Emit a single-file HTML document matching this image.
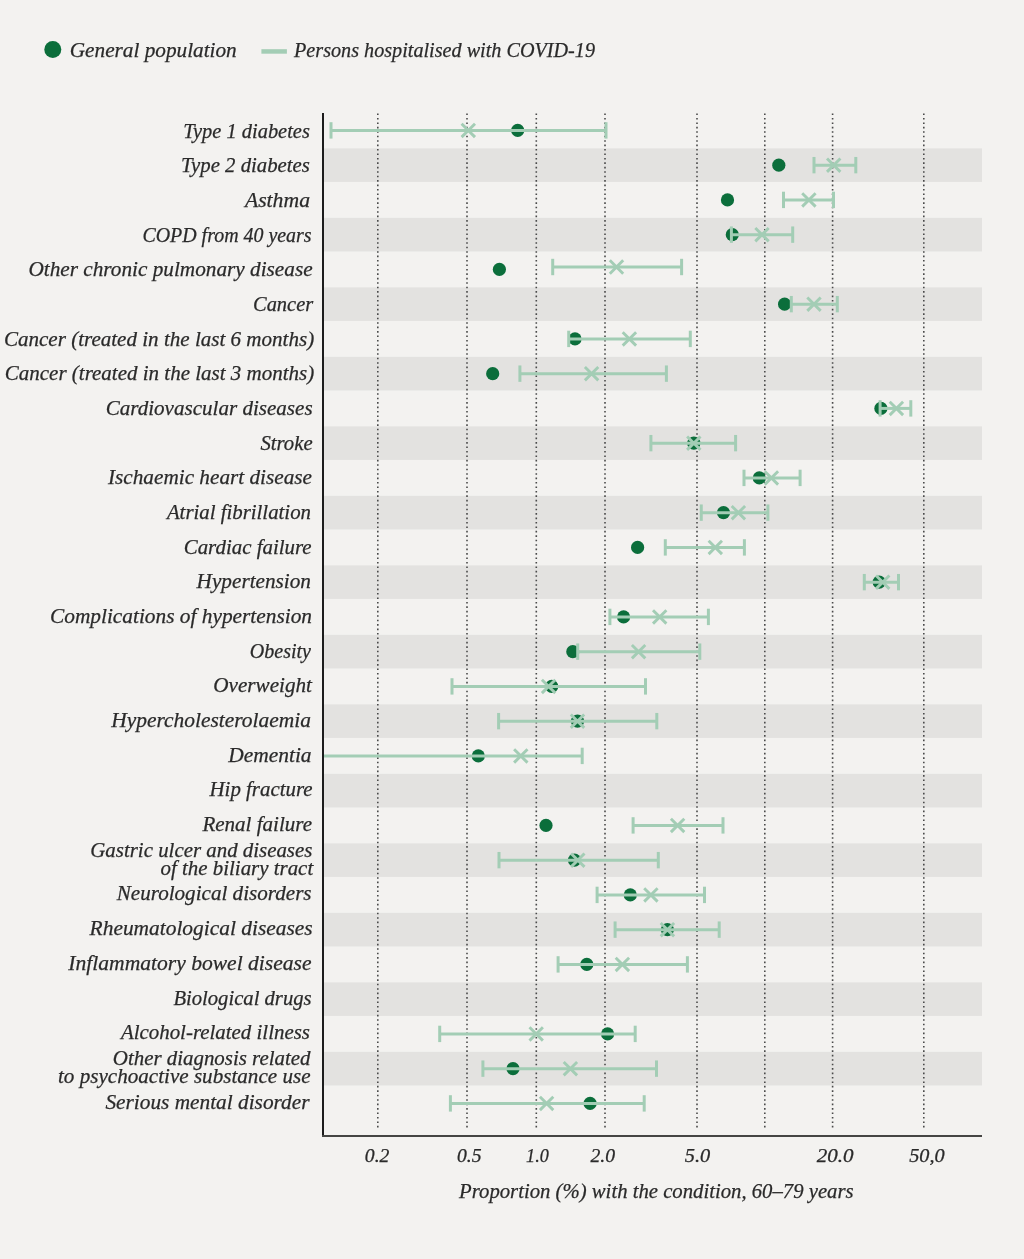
<!DOCTYPE html><html><head><meta charset="utf-8"><style>
html,body{margin:0;padding:0;background:#f3f2f0;width:1024px;height:1259px;overflow:hidden}
svg{display:block;will-change:transform}
text{font-family:"Liberation Serif", serif;font-style:italic;fill:#2a2a2a;stroke:#2a2a2a;stroke-width:0.25px}
</style></head><body>
<svg width="1024" height="1259" viewBox="0 0 1024 1259">
<rect x="0" y="0" width="1024" height="1259" fill="#f3f2f0"/>
<circle cx="52.8" cy="49.4" r="8.5" fill="#0b6e3b"/>
<text x="69.75" y="57.3" font-size="21" textLength="167" lengthAdjust="spacingAndGlyphs">General population</text>
<rect x="261.4" y="49.2" width="25.5" height="4.5" fill="#a3cdb5"/>
<text x="294" y="57.3" font-size="21" textLength="301" lengthAdjust="spacingAndGlyphs">Persons hospitalised with COVID-19</text>
<rect x="324" y="148.35" width="658" height="33.6" fill="#e3e2e0"/>
<rect x="324" y="217.85" width="658" height="33.6" fill="#e3e2e0"/>
<rect x="324" y="287.35" width="658" height="33.6" fill="#e3e2e0"/>
<rect x="324" y="356.85" width="658" height="33.6" fill="#e3e2e0"/>
<rect x="324" y="426.35" width="658" height="33.6" fill="#e3e2e0"/>
<rect x="324" y="495.85" width="658" height="33.6" fill="#e3e2e0"/>
<rect x="324" y="565.35" width="658" height="33.6" fill="#e3e2e0"/>
<rect x="324" y="634.85" width="658" height="33.6" fill="#e3e2e0"/>
<rect x="324" y="704.35" width="658" height="33.6" fill="#e3e2e0"/>
<rect x="324" y="773.85" width="658" height="33.6" fill="#e3e2e0"/>
<rect x="324" y="843.35" width="658" height="33.6" fill="#e3e2e0"/>
<rect x="324" y="912.85" width="658" height="33.6" fill="#e3e2e0"/>
<rect x="324" y="982.35" width="658" height="33.6" fill="#e3e2e0"/>
<rect x="324" y="1051.85" width="658" height="33.6" fill="#e3e2e0"/>
<line x1="377.8" y1="113.5" x2="377.8" y2="1127.5" stroke="#4a4a4a" stroke-width="1.6" stroke-dasharray="1.6 2.84"/>
<line x1="467.0" y1="113.5" x2="467.0" y2="1127.5" stroke="#4a4a4a" stroke-width="1.6" stroke-dasharray="1.6 2.84"/>
<line x1="536.3" y1="113.5" x2="536.3" y2="1127.5" stroke="#4a4a4a" stroke-width="1.6" stroke-dasharray="1.6 2.84"/>
<line x1="605.0" y1="113.5" x2="605.0" y2="1127.5" stroke="#4a4a4a" stroke-width="1.6" stroke-dasharray="1.6 2.84"/>
<line x1="697.0" y1="113.5" x2="697.0" y2="1127.5" stroke="#4a4a4a" stroke-width="1.6" stroke-dasharray="1.6 2.84"/>
<line x1="764.8" y1="113.5" x2="764.8" y2="1127.5" stroke="#4a4a4a" stroke-width="1.6" stroke-dasharray="1.6 2.84"/>
<line x1="832.6" y1="113.5" x2="832.6" y2="1127.5" stroke="#4a4a4a" stroke-width="1.6" stroke-dasharray="1.6 2.84"/>
<line x1="923.8" y1="113.5" x2="923.8" y2="1127.5" stroke="#4a4a4a" stroke-width="1.6" stroke-dasharray="1.6 2.84"/>
<rect x="322" y="113" width="2" height="1024" fill="#1c1c1c"/>
<rect x="322" y="1135" width="660" height="2" fill="#454543"/>
<text x="183.2" y="137.7" font-size="21" textLength="126.7" lengthAdjust="spacingAndGlyphs">Type 1 diabetes</text>
<text x="181.0" y="172.4" font-size="21" textLength="128.9" lengthAdjust="spacingAndGlyphs">Type 2 diabetes</text>
<text x="244.9" y="207.0" font-size="21" textLength="65.1" lengthAdjust="spacingAndGlyphs">Asthma</text>
<text x="142.4" y="241.7" font-size="21" textLength="169.2" lengthAdjust="spacingAndGlyphs">COPD from 40 years</text>
<text x="28.4" y="276.4" font-size="21" textLength="284.2" lengthAdjust="spacingAndGlyphs">Other chronic pulmonary disease</text>
<text x="253.0" y="311.1" font-size="21" textLength="60.2" lengthAdjust="spacingAndGlyphs">Cancer</text>
<text x="3.9" y="345.7" font-size="21" textLength="310.3" lengthAdjust="spacingAndGlyphs">Cancer (treated in the last 6 months)</text>
<text x="4.8" y="380.4" font-size="21" textLength="309.4" lengthAdjust="spacingAndGlyphs">Cancer (treated in the last 3 months)</text>
<text x="105.7" y="415.1" font-size="21" textLength="206.9" lengthAdjust="spacingAndGlyphs">Cardiovascular diseases</text>
<text x="260.4" y="449.7" font-size="21" textLength="52.2" lengthAdjust="spacingAndGlyphs">Stroke</text>
<text x="108.0" y="484.4" font-size="21" textLength="204.0" lengthAdjust="spacingAndGlyphs">Ischaemic heart disease</text>
<text x="166.9" y="519.1" font-size="21" textLength="144.1" lengthAdjust="spacingAndGlyphs">Atrial fibrillation</text>
<text x="183.7" y="553.7" font-size="21" textLength="127.9" lengthAdjust="spacingAndGlyphs">Cardiac failure</text>
<text x="196.6" y="588.4" font-size="21" textLength="114.4" lengthAdjust="spacingAndGlyphs">Hypertension</text>
<text x="50.0" y="623.1" font-size="21" textLength="262.0" lengthAdjust="spacingAndGlyphs">Complications of hypertension</text>
<text x="249.8" y="657.8" font-size="21" textLength="61.2" lengthAdjust="spacingAndGlyphs">Obesity</text>
<text x="213.3" y="692.4" font-size="21" textLength="98.7" lengthAdjust="spacingAndGlyphs">Overweight</text>
<text x="111.2" y="727.1" font-size="21" textLength="199.8" lengthAdjust="spacingAndGlyphs">Hypercholesterolaemia</text>
<text x="228.2" y="761.8" font-size="21" textLength="83.4" lengthAdjust="spacingAndGlyphs">Dementia</text>
<text x="209.5" y="796.4" font-size="21" textLength="103.1" lengthAdjust="spacingAndGlyphs">Hip fracture</text>
<text x="202.4" y="831.1" font-size="21" textLength="109.6" lengthAdjust="spacingAndGlyphs">Renal failure</text>
<text x="90.3" y="857.4" font-size="21" textLength="222.1" lengthAdjust="spacingAndGlyphs">Gastric ulcer and diseases</text>
<text x="160.6" y="874.5" font-size="21" textLength="152.6" lengthAdjust="spacingAndGlyphs">of the biliary tract</text>
<text x="116.7" y="900.4" font-size="21" textLength="194.9" lengthAdjust="spacingAndGlyphs">Neurological disorders</text>
<text x="89.6" y="935.1" font-size="21" textLength="223.0" lengthAdjust="spacingAndGlyphs">Rheumatological diseases</text>
<text x="68.3" y="969.8" font-size="21" textLength="243.3" lengthAdjust="spacingAndGlyphs">Inflammatory bowel disease</text>
<text x="173.4" y="1004.5" font-size="21" textLength="138.2" lengthAdjust="spacingAndGlyphs">Biological drugs</text>
<text x="120.9" y="1039.1" font-size="21" textLength="189.1" lengthAdjust="spacingAndGlyphs">Alcohol-related illness</text>
<text x="112.8" y="1065.4" font-size="21" textLength="197.7" lengthAdjust="spacingAndGlyphs">Other diagnosis related</text>
<text x="58.0" y="1082.5" font-size="21" textLength="252.5" lengthAdjust="spacingAndGlyphs">to psychoactive substance use</text>
<text x="105.4" y="1108.5" font-size="21" textLength="204.1" lengthAdjust="spacingAndGlyphs">Serious mental disorder</text>
<circle cx="517.7" cy="130.40" r="6.6" fill="#0b6e3b"/>
<line x1="331" y1="130.40" x2="606" y2="130.40" stroke="#a3cdb5" stroke-width="3"/>
<line x1="331" y1="122.20" x2="331" y2="138.60" stroke="#a3cdb5" stroke-width="3"/>
<line x1="606" y1="122.20" x2="606" y2="138.60" stroke="#a3cdb5" stroke-width="3"/>
<path d="M461.60 123.70L475.00 137.10M461.60 137.10L475.00 123.70" stroke="#a3cdb5" stroke-width="2.9" fill="none"/>
<circle cx="778.8" cy="165.15" r="6.6" fill="#0b6e3b"/>
<line x1="814.0" y1="165.15" x2="855.8" y2="165.15" stroke="#a3cdb5" stroke-width="3"/>
<line x1="814.0" y1="156.95" x2="814.0" y2="173.35" stroke="#a3cdb5" stroke-width="3"/>
<line x1="855.8" y1="156.95" x2="855.8" y2="173.35" stroke="#a3cdb5" stroke-width="3"/>
<path d="M827.00 158.45L840.40 171.85M827.00 171.85L840.40 158.45" stroke="#a3cdb5" stroke-width="2.9" fill="none"/>
<circle cx="727.5" cy="199.90" r="6.6" fill="#0b6e3b"/>
<line x1="783.5" y1="199.90" x2="833.5" y2="199.90" stroke="#a3cdb5" stroke-width="3"/>
<line x1="783.5" y1="191.70" x2="783.5" y2="208.10" stroke="#a3cdb5" stroke-width="3"/>
<line x1="833.5" y1="191.70" x2="833.5" y2="208.10" stroke="#a3cdb5" stroke-width="3"/>
<path d="M802.20 193.20L815.60 206.60M802.20 206.60L815.60 193.20" stroke="#a3cdb5" stroke-width="2.9" fill="none"/>
<circle cx="732.3" cy="234.65" r="6.6" fill="#0b6e3b"/>
<line x1="731.4" y1="234.65" x2="792.7" y2="234.65" stroke="#a3cdb5" stroke-width="3"/>
<line x1="731.4" y1="226.45" x2="731.4" y2="242.85" stroke="#a3cdb5" stroke-width="3"/>
<line x1="792.7" y1="226.45" x2="792.7" y2="242.85" stroke="#a3cdb5" stroke-width="3"/>
<path d="M755.30 227.95L768.70 241.35M755.30 241.35L768.70 227.95" stroke="#a3cdb5" stroke-width="2.9" fill="none"/>
<circle cx="499.4" cy="269.40" r="6.6" fill="#0b6e3b"/>
<line x1="552.7" y1="267.00" x2="681.6" y2="267.00" stroke="#a3cdb5" stroke-width="3"/>
<line x1="552.7" y1="258.80" x2="552.7" y2="275.20" stroke="#a3cdb5" stroke-width="3"/>
<line x1="681.6" y1="258.80" x2="681.6" y2="275.20" stroke="#a3cdb5" stroke-width="3"/>
<path d="M609.80 260.30L623.20 273.70M609.80 273.70L623.20 260.30" stroke="#a3cdb5" stroke-width="2.9" fill="none"/>
<circle cx="784.6" cy="304.15" r="6.6" fill="#0b6e3b"/>
<line x1="791.3" y1="304.15" x2="837.3" y2="304.15" stroke="#a3cdb5" stroke-width="3"/>
<line x1="791.3" y1="295.95" x2="791.3" y2="312.35" stroke="#a3cdb5" stroke-width="3"/>
<line x1="837.3" y1="295.95" x2="837.3" y2="312.35" stroke="#a3cdb5" stroke-width="3"/>
<path d="M807.30 297.45L820.70 310.85M807.30 310.85L820.70 297.45" stroke="#a3cdb5" stroke-width="2.9" fill="none"/>
<circle cx="575.0" cy="338.90" r="6.6" fill="#0b6e3b"/>
<line x1="568.7" y1="338.90" x2="690.3" y2="338.90" stroke="#a3cdb5" stroke-width="3"/>
<line x1="568.7" y1="330.70" x2="568.7" y2="347.10" stroke="#a3cdb5" stroke-width="3"/>
<line x1="690.3" y1="330.70" x2="690.3" y2="347.10" stroke="#a3cdb5" stroke-width="3"/>
<path d="M622.70 332.20L636.10 345.60M622.70 345.60L636.10 332.20" stroke="#a3cdb5" stroke-width="2.9" fill="none"/>
<circle cx="492.7" cy="373.65" r="6.6" fill="#0b6e3b"/>
<line x1="519.9" y1="373.65" x2="666.4" y2="373.65" stroke="#a3cdb5" stroke-width="3"/>
<line x1="519.9" y1="365.45" x2="519.9" y2="381.85" stroke="#a3cdb5" stroke-width="3"/>
<line x1="666.4" y1="365.45" x2="666.4" y2="381.85" stroke="#a3cdb5" stroke-width="3"/>
<path d="M584.90 366.95L598.30 380.35M584.90 380.35L598.30 366.95" stroke="#a3cdb5" stroke-width="2.9" fill="none"/>
<circle cx="880.9" cy="408.40" r="6.6" fill="#0b6e3b"/>
<line x1="880.1" y1="408.40" x2="910.8" y2="408.40" stroke="#a3cdb5" stroke-width="3"/>
<line x1="880.1" y1="400.20" x2="880.1" y2="416.60" stroke="#a3cdb5" stroke-width="3"/>
<line x1="910.8" y1="400.20" x2="910.8" y2="416.60" stroke="#a3cdb5" stroke-width="3"/>
<path d="M889.70 401.70L903.10 415.10M889.70 415.10L903.10 401.70" stroke="#a3cdb5" stroke-width="2.9" fill="none"/>
<circle cx="693.8" cy="443.15" r="6.6" fill="#0b6e3b"/>
<line x1="650.9" y1="443.15" x2="735.6" y2="443.15" stroke="#a3cdb5" stroke-width="3"/>
<line x1="650.9" y1="434.95" x2="650.9" y2="451.35" stroke="#a3cdb5" stroke-width="3"/>
<line x1="735.6" y1="434.95" x2="735.6" y2="451.35" stroke="#a3cdb5" stroke-width="3"/>
<path d="M687.10 436.45L700.50 449.85M687.10 449.85L700.50 436.45" stroke="#a3cdb5" stroke-width="2.9" fill="none"/>
<circle cx="759.3" cy="477.90" r="6.6" fill="#0b6e3b"/>
<line x1="744.0" y1="477.90" x2="800.1" y2="477.90" stroke="#a3cdb5" stroke-width="3"/>
<line x1="744.0" y1="469.70" x2="744.0" y2="486.10" stroke="#a3cdb5" stroke-width="3"/>
<line x1="800.1" y1="469.70" x2="800.1" y2="486.10" stroke="#a3cdb5" stroke-width="3"/>
<path d="M764.70 471.20L778.10 484.60M764.70 484.60L778.10 471.20" stroke="#a3cdb5" stroke-width="2.9" fill="none"/>
<circle cx="723.5" cy="512.65" r="6.6" fill="#0b6e3b"/>
<line x1="701.25" y1="512.65" x2="767.9" y2="512.65" stroke="#a3cdb5" stroke-width="3"/>
<line x1="701.25" y1="504.45" x2="701.25" y2="520.85" stroke="#a3cdb5" stroke-width="3"/>
<line x1="767.9" y1="504.45" x2="767.9" y2="520.85" stroke="#a3cdb5" stroke-width="3"/>
<path d="M731.70 505.95L745.10 519.35M731.70 519.35L745.10 505.95" stroke="#a3cdb5" stroke-width="2.9" fill="none"/>
<circle cx="637.6" cy="547.40" r="6.6" fill="#0b6e3b"/>
<line x1="665.3" y1="547.40" x2="744.4" y2="547.40" stroke="#a3cdb5" stroke-width="3"/>
<line x1="665.3" y1="539.20" x2="665.3" y2="555.60" stroke="#a3cdb5" stroke-width="3"/>
<line x1="744.4" y1="539.20" x2="744.4" y2="555.60" stroke="#a3cdb5" stroke-width="3"/>
<path d="M708.60 540.70L722.00 554.10M708.60 554.10L722.00 540.70" stroke="#a3cdb5" stroke-width="2.9" fill="none"/>
<circle cx="879.2" cy="582.15" r="6.6" fill="#0b6e3b"/>
<line x1="864.3" y1="582.15" x2="898.5" y2="582.15" stroke="#a3cdb5" stroke-width="3"/>
<line x1="864.3" y1="573.95" x2="864.3" y2="590.35" stroke="#a3cdb5" stroke-width="3"/>
<line x1="898.5" y1="573.95" x2="898.5" y2="590.35" stroke="#a3cdb5" stroke-width="3"/>
<path d="M876.00 575.45L889.40 588.85M876.00 588.85L889.40 575.45" stroke="#a3cdb5" stroke-width="2.9" fill="none"/>
<circle cx="623.6" cy="616.90" r="6.6" fill="#0b6e3b"/>
<line x1="609.9" y1="616.90" x2="708.4" y2="616.90" stroke="#a3cdb5" stroke-width="3"/>
<line x1="609.9" y1="608.70" x2="609.9" y2="625.10" stroke="#a3cdb5" stroke-width="3"/>
<line x1="708.4" y1="608.70" x2="708.4" y2="625.10" stroke="#a3cdb5" stroke-width="3"/>
<path d="M653.00 610.20L666.40 623.60M653.00 623.60L666.40 610.20" stroke="#a3cdb5" stroke-width="2.9" fill="none"/>
<circle cx="572.8" cy="651.65" r="6.6" fill="#0b6e3b"/>
<line x1="577.7" y1="651.65" x2="699.8" y2="651.65" stroke="#a3cdb5" stroke-width="3"/>
<line x1="577.7" y1="643.45" x2="577.7" y2="659.85" stroke="#a3cdb5" stroke-width="3"/>
<line x1="699.8" y1="643.45" x2="699.8" y2="659.85" stroke="#a3cdb5" stroke-width="3"/>
<path d="M631.90 644.95L645.30 658.35M631.90 658.35L645.30 644.95" stroke="#a3cdb5" stroke-width="2.9" fill="none"/>
<circle cx="551.7" cy="686.40" r="6.6" fill="#0b6e3b"/>
<line x1="452.0" y1="686.40" x2="645.5" y2="686.40" stroke="#a3cdb5" stroke-width="3"/>
<line x1="452.0" y1="678.20" x2="452.0" y2="694.60" stroke="#a3cdb5" stroke-width="3"/>
<line x1="645.5" y1="678.20" x2="645.5" y2="694.60" stroke="#a3cdb5" stroke-width="3"/>
<path d="M541.90 679.70L555.30 693.10M541.90 693.10L555.30 679.70" stroke="#a3cdb5" stroke-width="2.9" fill="none"/>
<circle cx="577.5" cy="721.15" r="6.6" fill="#0b6e3b"/>
<line x1="498.6" y1="721.15" x2="656.8" y2="721.15" stroke="#a3cdb5" stroke-width="3"/>
<line x1="498.6" y1="712.95" x2="498.6" y2="729.35" stroke="#a3cdb5" stroke-width="3"/>
<line x1="656.8" y1="712.95" x2="656.8" y2="729.35" stroke="#a3cdb5" stroke-width="3"/>
<path d="M570.80 714.45L584.20 727.85M570.80 727.85L584.20 714.45" stroke="#a3cdb5" stroke-width="2.9" fill="none"/>
<circle cx="478.3" cy="755.90" r="6.6" fill="#0b6e3b"/>
<line x1="324" y1="755.90" x2="582.2" y2="755.90" stroke="#a3cdb5" stroke-width="3"/>
<line x1="582.2" y1="747.70" x2="582.2" y2="764.10" stroke="#a3cdb5" stroke-width="3"/>
<path d="M514.10 749.20L527.50 762.60M514.10 762.60L527.50 749.20" stroke="#a3cdb5" stroke-width="2.9" fill="none"/>
<circle cx="546.0" cy="825.40" r="6.6" fill="#0b6e3b"/>
<line x1="633.1" y1="825.40" x2="723.0" y2="825.40" stroke="#a3cdb5" stroke-width="3"/>
<line x1="633.1" y1="817.20" x2="633.1" y2="833.60" stroke="#a3cdb5" stroke-width="3"/>
<line x1="723.0" y1="817.20" x2="723.0" y2="833.60" stroke="#a3cdb5" stroke-width="3"/>
<path d="M670.90 818.70L684.30 832.10M670.90 832.10L684.30 818.70" stroke="#a3cdb5" stroke-width="2.9" fill="none"/>
<circle cx="574.5" cy="860.15" r="6.6" fill="#0b6e3b"/>
<line x1="499.0" y1="860.15" x2="658.3" y2="860.15" stroke="#a3cdb5" stroke-width="3"/>
<line x1="499.0" y1="851.95" x2="499.0" y2="868.35" stroke="#a3cdb5" stroke-width="3"/>
<line x1="658.3" y1="851.95" x2="658.3" y2="868.35" stroke="#a3cdb5" stroke-width="3"/>
<path d="M571.10 853.45L584.50 866.85M571.10 866.85L584.50 853.45" stroke="#a3cdb5" stroke-width="2.9" fill="none"/>
<circle cx="630.3" cy="894.90" r="6.6" fill="#0b6e3b"/>
<line x1="597.1" y1="894.90" x2="704.5" y2="894.90" stroke="#a3cdb5" stroke-width="3"/>
<line x1="597.1" y1="886.70" x2="597.1" y2="903.10" stroke="#a3cdb5" stroke-width="3"/>
<line x1="704.5" y1="886.70" x2="704.5" y2="903.10" stroke="#a3cdb5" stroke-width="3"/>
<path d="M644.20 888.20L657.60 901.60M644.20 901.60L657.60 888.20" stroke="#a3cdb5" stroke-width="2.9" fill="none"/>
<circle cx="667.4" cy="929.65" r="6.6" fill="#0b6e3b"/>
<line x1="615.1" y1="929.65" x2="719.2" y2="929.65" stroke="#a3cdb5" stroke-width="3"/>
<line x1="615.1" y1="921.45" x2="615.1" y2="937.85" stroke="#a3cdb5" stroke-width="3"/>
<line x1="719.2" y1="921.45" x2="719.2" y2="937.85" stroke="#a3cdb5" stroke-width="3"/>
<path d="M660.70 922.95L674.10 936.35M660.70 936.35L674.10 922.95" stroke="#a3cdb5" stroke-width="2.9" fill="none"/>
<circle cx="586.8" cy="964.40" r="6.6" fill="#0b6e3b"/>
<line x1="558.1" y1="964.40" x2="687.4" y2="964.40" stroke="#a3cdb5" stroke-width="3"/>
<line x1="558.1" y1="956.20" x2="558.1" y2="972.60" stroke="#a3cdb5" stroke-width="3"/>
<line x1="687.4" y1="956.20" x2="687.4" y2="972.60" stroke="#a3cdb5" stroke-width="3"/>
<path d="M615.70 957.70L629.10 971.10M615.70 971.10L629.10 957.70" stroke="#a3cdb5" stroke-width="2.9" fill="none"/>
<circle cx="607.6" cy="1033.90" r="6.6" fill="#0b6e3b"/>
<line x1="439.7" y1="1033.90" x2="635.2" y2="1033.90" stroke="#a3cdb5" stroke-width="3"/>
<line x1="439.7" y1="1025.70" x2="439.7" y2="1042.10" stroke="#a3cdb5" stroke-width="3"/>
<line x1="635.2" y1="1025.70" x2="635.2" y2="1042.10" stroke="#a3cdb5" stroke-width="3"/>
<path d="M529.50 1027.20L542.90 1040.60M529.50 1040.60L542.90 1027.20" stroke="#a3cdb5" stroke-width="2.9" fill="none"/>
<circle cx="513.0" cy="1068.65" r="6.6" fill="#0b6e3b"/>
<line x1="482.9" y1="1068.65" x2="656.5" y2="1068.65" stroke="#a3cdb5" stroke-width="3"/>
<line x1="482.9" y1="1060.45" x2="482.9" y2="1076.85" stroke="#a3cdb5" stroke-width="3"/>
<line x1="656.5" y1="1060.45" x2="656.5" y2="1076.85" stroke="#a3cdb5" stroke-width="3"/>
<path d="M563.70 1061.95L577.10 1075.35M563.70 1075.35L577.10 1061.95" stroke="#a3cdb5" stroke-width="2.9" fill="none"/>
<circle cx="590.1" cy="1103.40" r="6.6" fill="#0b6e3b"/>
<line x1="450.4" y1="1103.40" x2="644.2" y2="1103.40" stroke="#a3cdb5" stroke-width="3"/>
<line x1="450.4" y1="1095.20" x2="450.4" y2="1111.60" stroke="#a3cdb5" stroke-width="3"/>
<line x1="644.2" y1="1095.20" x2="644.2" y2="1111.60" stroke="#a3cdb5" stroke-width="3"/>
<path d="M539.90 1096.70L553.30 1110.10M539.90 1110.10L553.30 1096.70" stroke="#a3cdb5" stroke-width="2.9" fill="none"/>
<text x="364.8" y="1161.8" font-size="18" textLength="24.6" lengthAdjust="spacingAndGlyphs">0.2</text>
<text x="457.0" y="1161.8" font-size="18" textLength="24.6" lengthAdjust="spacingAndGlyphs">0.5</text>
<text x="526.1" y="1161.8" font-size="18" textLength="22.7" lengthAdjust="spacingAndGlyphs">1.0</text>
<text x="590.4" y="1161.8" font-size="18" textLength="24.6" lengthAdjust="spacingAndGlyphs">2.0</text>
<text x="684.7" y="1161.8" font-size="18" textLength="25.5" lengthAdjust="spacingAndGlyphs">5.0</text>
<text x="816.7" y="1161.8" font-size="18" textLength="36.9" lengthAdjust="spacingAndGlyphs">20.0</text>
<text x="909.2" y="1161.8" font-size="18" textLength="35.5" lengthAdjust="spacingAndGlyphs">50,0</text>
<text x="459.1" y="1197.8" font-size="21" textLength="394.5" lengthAdjust="spacingAndGlyphs">Proportion (%) with the condition, 60–79 years</text>
</svg></body></html>
